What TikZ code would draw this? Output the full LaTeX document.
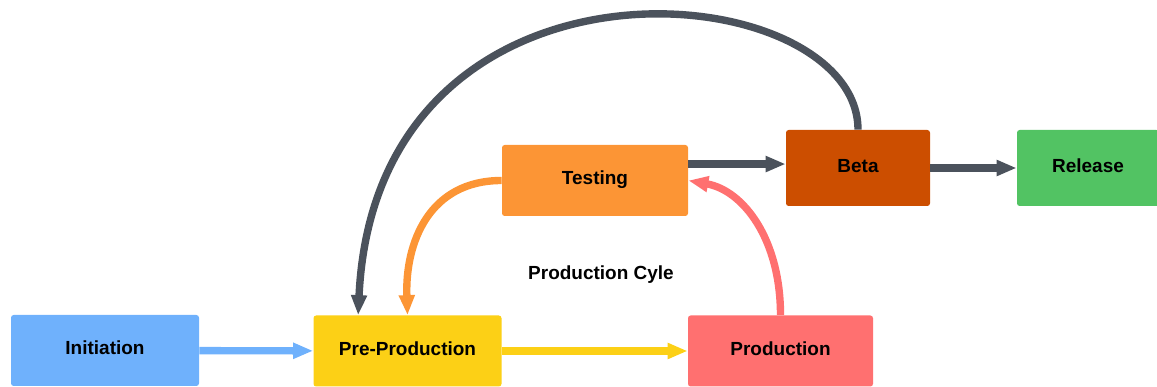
\documentclass[tikz,border=0pt]{standalone}
\usepackage{fontspec}
\setmainfont{Liberation Sans}
\usetikzlibrary{arrows.meta}

\definecolor{iniblue}{RGB}{111,177,252}
\definecolor{preyellow}{RGB}{252,208,22}
\definecolor{prodred}{RGB}{255,112,112}
\definecolor{testorange}{RGB}{252,149,53}
\definecolor{betarust}{RGB}{204,78,0}
\definecolor{relgreen}{RGB}{82,195,99}
\definecolor{flowgray}{RGB}{75,82,92}

\begin{document}
\begin{tikzpicture}[
	stage/.style={rounded corners=1.5pt, inner sep=0pt, minimum width=3.76cm, minimum height=1.42cm, text height=0.72em, text depth=0.21em, font=\fontsize{10.8}{13}\selectfont\bfseries},
	flow/.style={line width=4.2pt, -{Triangle[length=0.4cm, width=0.3cm]}}
	]
					\useasboundingbox (0,0) rectangle (23.14,-7.74);
					
					\node[stage, fill=iniblue] (ini) at (2.1,-7.01) {Initiation};
					\node[stage, fill=preyellow] (pre) at (8.15,-7.02) {Pre-Production};
					\node[stage, fill=prodred, minimum width=3.7cm] (prod) at (15.61,-7.02) {Production};
					\node[stage, fill=testorange, minimum width=3.72cm] (test) at (11.9,-3.61) {Testing};
					\node[stage, fill=betarust, minimum width=2.88cm, minimum height=1.52cm] (beta) at (17.16,-3.36) {Beta};
					\node[stage, fill=relgreen, minimum width=2.84cm, minimum height=1.52cm] (rel) at (21.76,-3.36) {Release};
					\node[font=\fontsize{10.8}{13}\selectfont\bfseries] (cyc) at (12.02,-5.5) {Production Cyle};
					
					\draw[flow, iniblue] (ini) -- (pre);
					\draw[flow, preyellow] (pre) -- (prod);
					\draw[flow, prodred] (prod.north) .. controls +(0,1.52) and +(1.1,-0.2) .. (test.east);
					\draw[flow, testorange] (test.west) .. controls +(-1.45,0) and +(-0.05,1.45) .. (pre.north);
					\draw[flow, flowgray] (test.10) -- (test.10 -| beta.west);
					\draw[flow, flowgray] (beta) -- (rel);
					\draw[flow, flowgray] (beta.north) .. controls +(0,3.1) and +(0.36,7.76) .. (pre.144);
					
\end{tikzpicture}
\end{document}
